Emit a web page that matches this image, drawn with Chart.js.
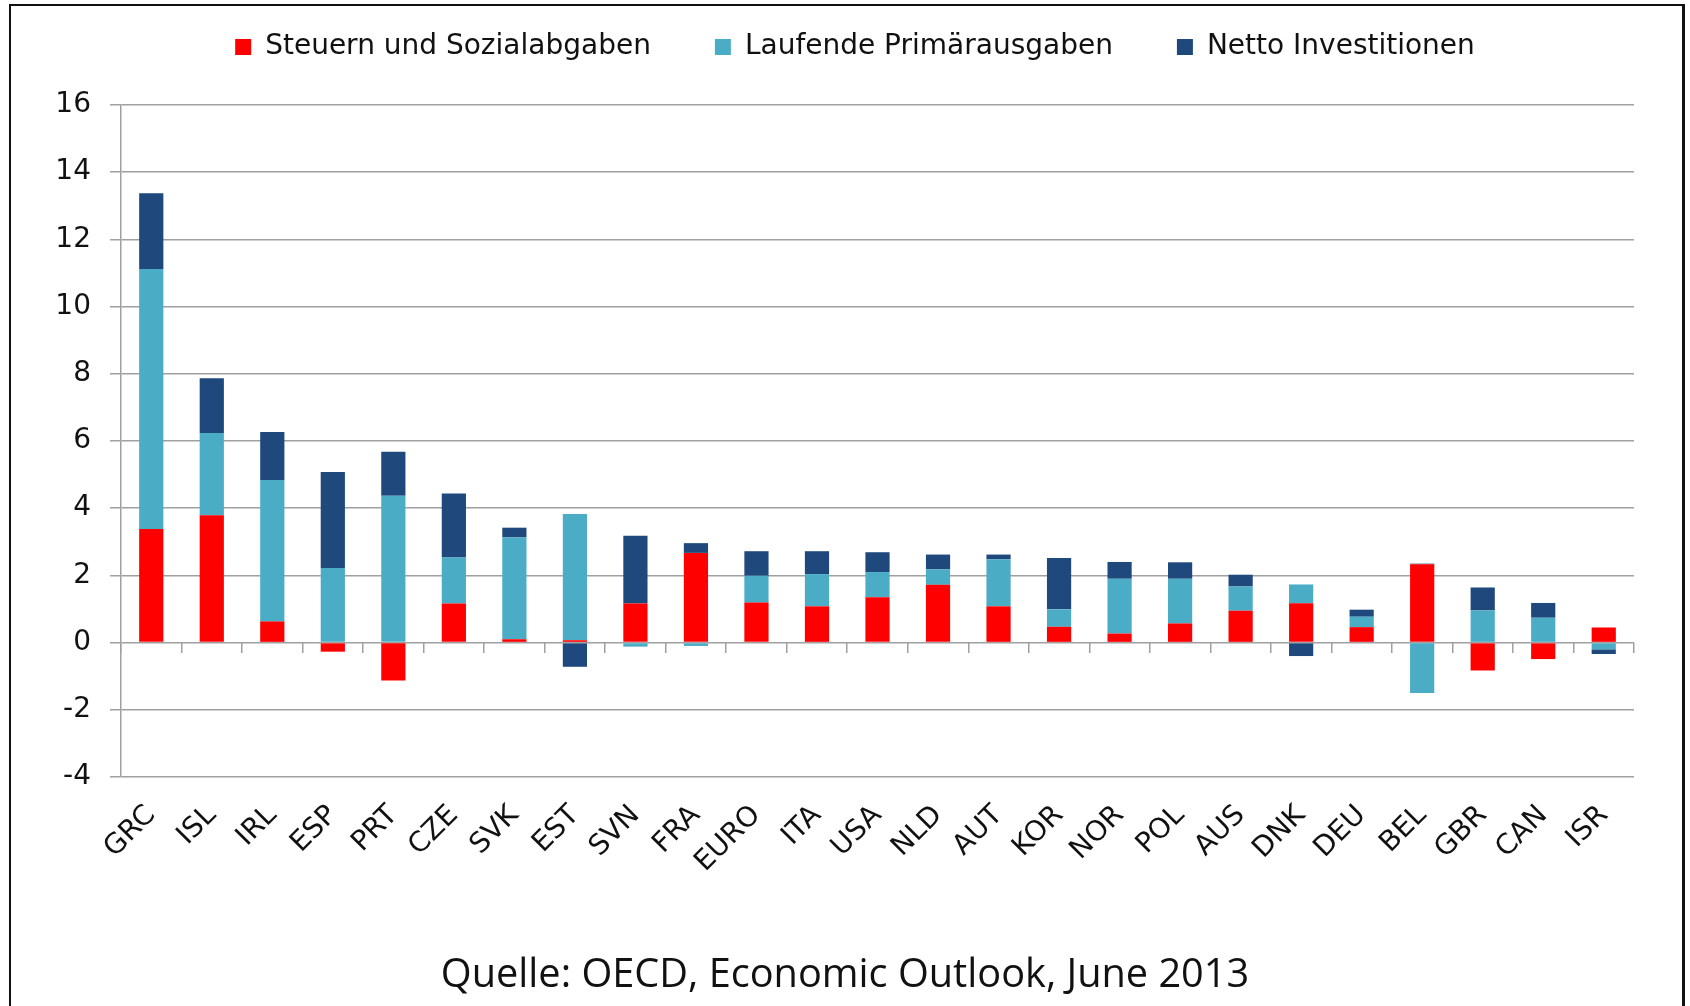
<!DOCTYPE html>
<html>
<head>
<meta charset="utf-8">
<script src="https://cdn.jsdelivr.net/npm/chart.js@4.4.1/dist/chart.umd.min.js"></script>
<style>
  body { margin: 0; background: #fff; }
  #wrap { position: relative; width: 1690px; height: 1006px; overflow: hidden; }
  #frame { position: absolute; left: 9px; top: 4px; width: 1671px; height: 1100px;
           border-top: 2px solid #111; border-left: 2px solid #111; border-right: 3px solid #111; }
  #source { position: absolute; left: 0; width: 1690px; top: 945px; text-align: center;
            font-family: "Open Sans", sans-serif; font-size: 39.7px; color: #111; }
  canvas { position: absolute; left: 0; top: 0; }
</style>
</head>
<body>
<div id="wrap">
  <div id="frame"></div>
  <canvas id="oecdChart" width="1690" height="1006"></canvas>
  <div id="source">Quelle: OECD, Economic Outlook, June 2013</div>
</div>
<script>
const countries = ["GRC", "ISL", "IRL", "ESP", "PRT", "CZE", "SVK", "EST", "SVN", "FRA", "EURO", "ITA", "USA",
  "NLD", "AUT", "KOR", "NOR", "POL", "AUS", "DNK", "DEU", "BEL", "GBR", "CAN", "ISR"];

const steuern = [3.38, 3.79, 0.63, -0.27, -1.13, 1.16, 0.10, 0.07, 1.16, 2.67, 1.19, 1.08, 1.35,
  1.72, 1.08, 0.47, 0.27, 0.57, 0.95, 1.17, 0.46, 2.33, -0.83, -0.49, 0.45];
const laufende = [7.74, 2.45, 4.21, 2.22, 4.37, 1.37, 3.03, 3.76, -0.12, -0.10, 0.80, 0.96, 0.75,
  0.46, 1.40, 0.52, 1.63, 1.33, 0.72, 0.56, 0.31, -1.50, 0.96, 0.74, -0.20];
const netto = [2.25, 1.63, 1.43, 2.86, 1.31, 1.91, 0.29, -0.72, 2.02, 0.29, 0.73, 0.68, 0.59,
  0.44, 0.14, 1.53, 0.50, 0.49, 0.35, -0.40, 0.21, 0.02, 0.68, 0.44, -0.14];

const yTicks = [-4, -2, 0, 2, 4, 6, 8, 10, 12, 14, 16];

const GRID = "#a0a0a0";
const FONT = "'DejaVu Sans', sans-serif";
const LEGEND_H = 136;
const LEGEND_SHIFT = 38;

// legend height is fixed so the plot starts where the original one does,
// and the legend row sits a bit right of centre like in the original
const legendFix = {
  id: "legendFix",
  beforeLayout(chart) {
    const legend = chart.legend;
    if (legend && !legend._patched) {
      const fit = legend.fit;
      legend.fit = function () {
        fit.call(this);
        this.height = LEGEND_H;
      };
      legend._patched = true;
    }
  },
  afterLayout(chart) {
    const legend = chart.legend;
    if (legend) {
      legend.left += LEGEND_SHIFT;
      legend.right += LEGEND_SHIFT;
    }
  },
};

const ctx = document.getElementById("oecdChart");
new Chart(ctx, {
  type: "bar",
  data: {
    labels: countries,
    datasets: [
      { label: "Steuern und Sozialabgaben", data: steuern, backgroundColor: "#ff0000" },
      { label: "Laufende Primärausgaben", data: laufende, backgroundColor: "#4bacc6" },
      { label: "Netto Investitionen", data: netto, backgroundColor: "#1f497d" },
    ],
  },
  options: {
    responsive: false,
    animation: false,
    devicePixelRatio: 1,
    layout: { padding: { top: -31, right: 56, bottom: 0, left: 0 } },
    datasets: {
      bar: { barPercentage: 0.4, categoryPercentage: 1, borderWidth: 0 },
    },
    plugins: {
      tooltip: { enabled: false },
      legend: {
        position: "top",
        labels: {
          boxWidth: 16,
          boxHeight: 16,
          padding: 64,
          color: "#111",
          font: { family: FONT, size: 28 },
        },
      },
    },
    scales: {
      x: {
        stacked: true,
        grid: { display: false, drawTicks: false },
        border: { display: false },
        ticks: {
          autoSkip: false,
          minRotation: 45,
          maxRotation: 45,
          padding: 22,
          color: "#111",
          font: { family: FONT, size: 28 },
        },
        afterFit(scale) {
          scale.height = 229;
        },
      },
      x2: {
        type: "category",
        labels: countries,
        position: { y: 0 },
        offset: true,
        grid: { offset: true, drawOnChartArea: false, drawTicks: true, tickLength: 10, color: GRID, lineWidth: 1.5 },
        border: { display: false },
        ticks: { display: false },
      },
      y: {
        stacked: true,
        min: -4,
        max: 16,
        afterBuildTicks(scale) {
          scale.ticks = yTicks.map((v) => ({ value: v }));
        },
        afterFit(scale) {
          scale.width = 121;
        },
        grid: { color: GRID, lineWidth: 1.5, tickLength: 11 },
        border: { color: GRID, width: 1.5 },
        ticks: {
          padding: 19,
          color: "#111",
          font: { family: FONT, size: 28 },
        },
      },
    },
  },
  plugins: [legendFix],
});
</script>
</body>
</html>
